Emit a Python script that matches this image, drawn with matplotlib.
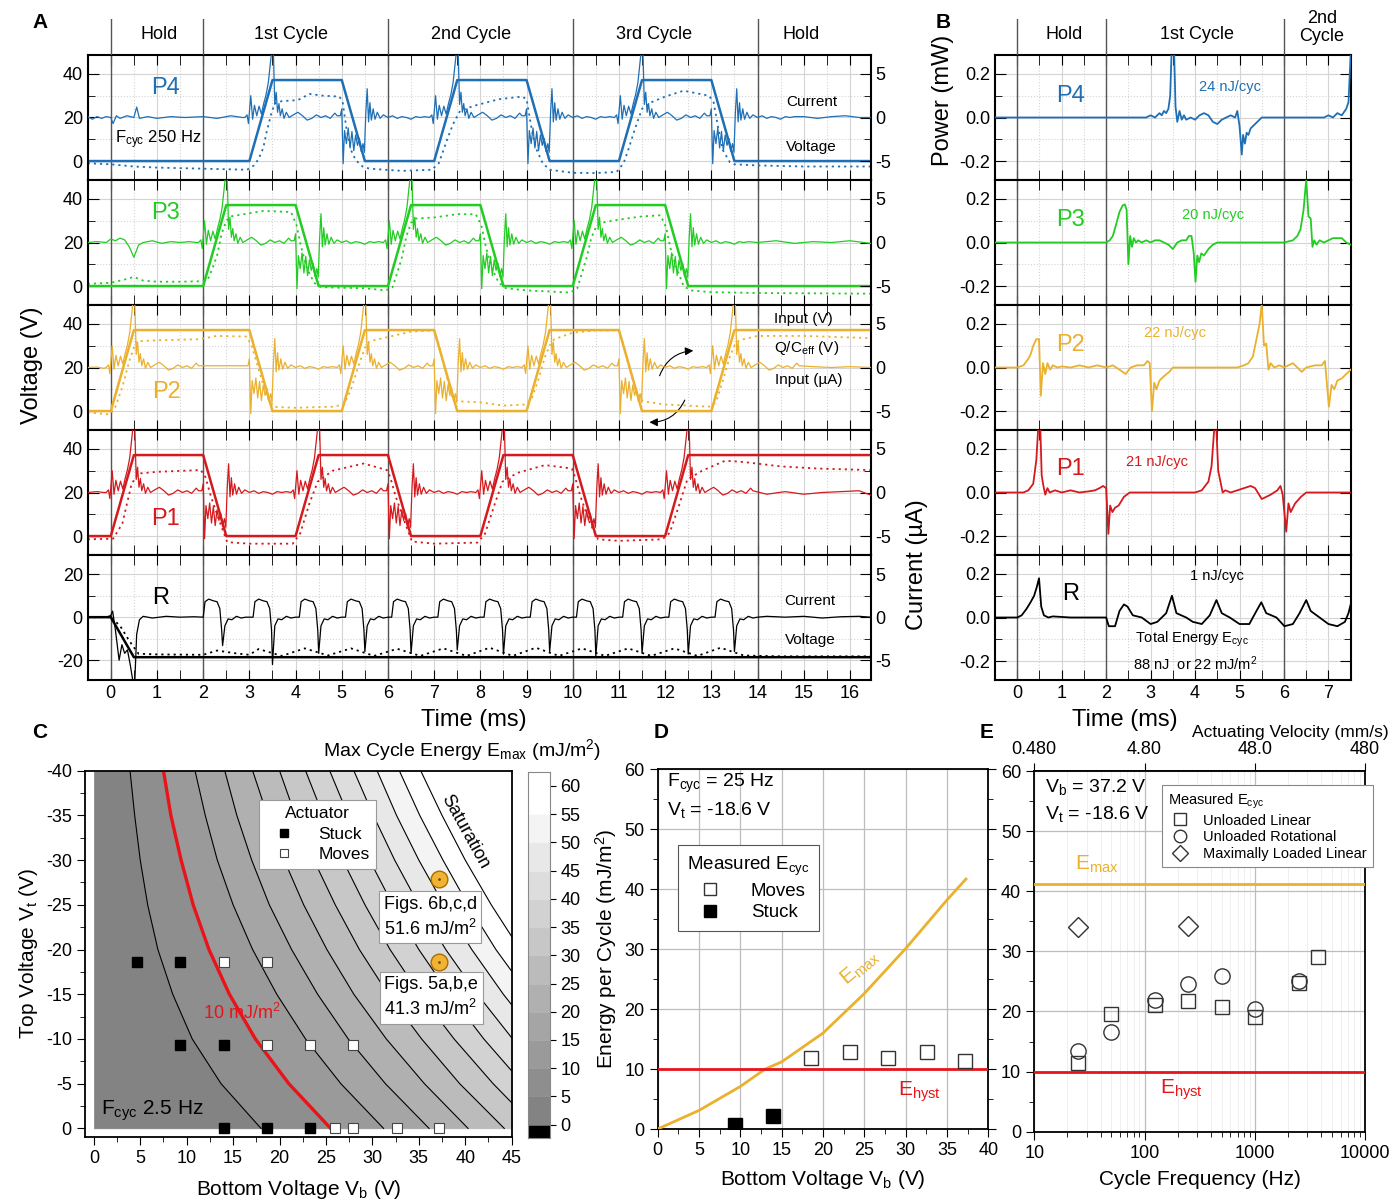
import numpy as np
import matplotlib
matplotlib.use("Agg")
import matplotlib.pyplot as plt
from matplotlib.lines import Line2D
from matplotlib.ticker import MultipleLocator, FixedLocator, NullLocator, FormatStrFormatter

plt.rcParams['font.family'] = ['Liberation Sans', 'DejaVu Sans']
plt.rcParams['mathtext.fontset'] = 'custom'
plt.rcParams['mathtext.rm'] = 'Liberation Sans'
plt.rcParams['mathtext.it'] = 'Liberation Sans:italic'
plt.rcParams['mathtext.bf'] = 'Liberation Sans:bold'
plt.rcParams['axes.unicode_minus'] = False
plt.rcParams['axes.linewidth'] = 1.3
plt.rcParams['xtick.labelsize'] = 13
plt.rcParams['ytick.labelsize'] = 13

BLUE = '#1f6fb5'
GREEN = '#22cc22'
GOLD = '#ebb02e'
RED = '#d41a1e'
HYST = '#e8141a'
SEP = '#555555'

# ---------------- panel A data (time in ms) ----------------
V_HIGH = 37.2
P4_VIN = [(-0.5, 0), (3, 0), (3.5, V_HIGH), (5, V_HIGH), (5.5, 0), (7, 0), (7.5, V_HIGH), (9, V_HIGH),
          (9.5, 0), (11, 0), (11.5, V_HIGH), (13, V_HIGH), (13.5, 0), (16.45, 0)]
P3_VIN = [(-0.5, 0), (2, 0), (2.5, V_HIGH), (4, V_HIGH), (4.5, 0), (6, 0), (6.5, V_HIGH), (8, V_HIGH),
          (8.5, 0), (10, 0), (10.5, V_HIGH), (12, V_HIGH), (12.5, 0), (16.45, 0)]
P2_VIN = [(-0.5, 0), (0, 0), (0.5, V_HIGH), (3, V_HIGH), (3.5, 0), (5, 0), (5.5, V_HIGH), (7, V_HIGH),
          (7.5, 0), (9, 0), (9.5, V_HIGH), (11, V_HIGH), (11.5, 0), (13, 0), (13.5, V_HIGH), (16.45, V_HIGH)]
P1_VIN = [(-0.5, 0), (0, 0), (0.5, V_HIGH), (2, V_HIGH), (2.5, 0), (4, 0), (4.5, V_HIGH), (6, V_HIGH),
          (6.5, 0), (8, 0), (8.5, V_HIGH), (10, V_HIGH), (10.5, 0), (12, 0), (12.5, V_HIGH), (16.45, V_HIGH)]
R_VIN = [(-0.5, 0), (0, 0), (0.5, -18.6), (16.45, -18.6)]

# Q/Ceff (dotted), volts
P4_Q = [(-0.5, -1), (0.0, -1.5), (0.5, -2.5), (1.0, -3), (2.0, -3.5), (2.95, -4), (3.1, -2), (3.2, 1), (3.3, 6),
        (3.37, 13), (3.47, 21.5), (3.55, 26.5), (3.7, 27.5), (4.05, 28), (4.3, 30.8), (4.6, 30), (4.95, 29.6),
        (5.02, 27), (5.1, 15), (5.2, 5), (5.3, 0.5), (5.45, -2.5), (5.6, -3.5), (6.3, -4.5), (6.95, -4),
        (7.1, -1), (7.2, 4.9), (7.3, 11), (7.41, 17), (7.56, 23), (7.85, 25.3), (8.4, 28.4), (8.9, 29.6),
        (9.0, 28.5), (9.1, 16), (9.2, 6), (9.35, -1), (9.5, -4), (10.0, -5.4), (10.5, -5.5), (10.95, -5),
        (11.1, -1), (11.2, 5), (11.35, 15), (11.5, 24), (11.7, 27), (12.0, 29.6), (12.4, 32.3), (12.95, 30),
        (13.05, 27), (13.15, 15), (13.25, 5), (13.4, -0.5), (13.5, -1.5), (14.0, -2), (15.0, -2.5), (16.45, -2.5)]
P3_Q = [(-0.5, 1), (0.0, 1.5), (0.3, 3), (0.5, 4.2), (0.7, 2.5), (1.0, 2), (1.5, 2), (1.95, 2.2), (2.1, 3),
        (2.2, 8), (2.3, 14), (2.4, 24), (2.5, 30), (2.6, 32), (3.3, 34.5), (3.9, 34), (4.02, 28), (4.12, 18),
        (4.25, 8), (4.4, 1.5), (4.55, -0.5), (5.0, -0.8), (5.5, -1), (5.95, -2), (6.1, -0.5), (6.2, 6),
        (6.3, 13), (6.4, 23), (6.5, 29), (6.6, 31), (7.0, 31.5), (7.5, 33), (7.9, 33), (8.02, 28), (8.12, 18),
        (8.25, 8), (8.4, 1.5), (8.55, -1), (9.0, -2), (9.5, -2.5), (9.95, -3), (10.1, -1), (10.2, 6),
        (10.3, 13), (10.4, 22), (10.5, 27), (10.6, 29), (11.0, 30.5), (11.5, 32), (11.9, 32.5), (12.02, 27),
        (12.12, 17), (12.25, 8), (12.4, 0), (12.55, -2), (13.0, -2.8), (14.0, -3.2), (16.45, -3.5)]
P2_Q = [(-0.5, -0.5), (-0.1, -1.5), (0.0, -1.2), (0.1, 2), (0.25, 11), (0.4, 23), (0.5, 29), (0.56, 32),
        (1.0, 32.5), (1.93, 33), (2.29, 34.5), (2.94, 34.2), (3.05, 30), (3.16, 22), (3.38, 6.5), (3.52, 1.9),
        (4.0, 1.5), (4.8, 2), (5.05, 3), (5.2, 10), (5.35, 20), (5.5, 29), (5.6, 32), (6.0, 34), (6.5, 36.5),
        (7.0, 37), (7.08, 32), (7.2, 22), (7.38, 7), (7.52, 4.5), (8.0, 4), (8.5, 2.5), (8.95, 3), (9.1, 5),
        (9.25, 14), (9.4, 25), (9.5, 30), (9.6, 33), (10.0, 36), (10.5, 37), (11.0, 37), (11.08, 32),
        (11.2, 22), (11.38, 8), (11.52, 4.5), (12.0, 3), (12.95, 2), (13.1, 4), (13.25, 14), (13.4, 25),
        (13.5, 30), (13.6, 32.5), (14.0, 34.5), (15.0, 34.5), (16.45, 33.5)]
P1_Q = [(-0.5, -1.5), (0.05, -1.2), (0.25, 5.7), (0.45, 24), (0.6, 28.7), (1.0, 29.5), (1.95, 30.3),
        (2.05, 27), (2.17, 18), (2.37, 5.8), (2.52, -2.8), (3.0, -3.5), (3.94, -3.5), (4.1, 1.2), (4.3, 15),
        (4.48, 25), (4.8, 30), (5.47, 33.3), (5.98, 30.3), (6.05, 27), (6.17, 18), (6.37, 6), (6.52, -2.5),
        (7.0, -3.5), (7.94, -3.0), (8.1, 1), (8.3, 14), (8.48, 25), (8.8, 29), (9.4, 32.6), (9.98, 31),
        (10.05, 27), (10.17, 18), (10.37, 6), (10.55, -1.5), (11.0, -2.2), (11.94, -1.5), (12.1, 1.5),
        (12.3, 14), (12.48, 26), (12.8, 30), (13.3, 34.6), (13.7, 34), (14.5, 32), (15.3, 31), (16.45, 30.3)]
R_Q = [(-0.5, 0), (0.0, 0), (0.2, -4), (0.4, -11), (0.6, -17), (1.0, -17.3), (2.0, -17.5), (2.3, -15.5),
       (2.7, -16.8), (3.0, -17.5), (3.2, -14.8), (3.7, -18), (4.2, -14.5), (4.7, -17.8), (5.2, -14.5),
       (5.7, -18), (6.2, -14.7), (6.7, -18), (7.2, -14.5), (7.7, -18), (8.2, -14.2), (8.7, -18), (9.2, -14.2),
       (9.7, -18), (10.2, -14.5), (10.7, -18), (11.2, -14.5), (11.7, -18), (12.2, -14.5), (12.7, -18),
       (13.2, -14.2), (13.7, -17.8), (14.5, -18.2), (16.45, -18.2)]

# current response read around one ramp (offset from ramp start, uA)
RISE_SHAPE = [(-0.10, 0.0), (-0.05, 0.3), (-0.02, -0.7), (0.03, 2.5), (0.07, -0.2), (0.11, 1.4), (0.16, 0.2),
              (0.21, 1.3), (0.26, 0.4), (0.31, 1.6), (0.36, 2.6), (0.41, 4.0), (0.45, 6.0), (0.48, 7.5),
              (0.52, 7.5), (0.55, 1.5), (0.58, 2.9), (0.61, 0.6), (0.64, 1.6), (0.67, 0.2), (0.71, 1.0),
              (0.75, -0.1), (0.80, 0.6), (0.86, 0.0), (0.95, 0.3), (1.05, 0.6), (1.15, 0.2), (1.25, -0.3),
              (1.35, -0.1), (1.45, 0.3), (1.55, 0.0), (1.65, 0.2), (1.75, -0.1), (1.85, 0.5), (1.9, 0.2)]
FALL_SHAPE = [(-0.03, 0.2), (0.0, 1.0), (0.03, -5.3), (0.06, -1.5), (0.10, -3.0), (0.14, -1.2), (0.18, -3.5),
              (0.22, -1.6), (0.26, -3.8), (0.30, -2.0), (0.34, -3.2), (0.38, -2.4), (0.42, -3.9), (0.46, -3.0),
              (0.49, -4.0), (0.52, 0.5), (0.55, 3.3), (0.58, -0.5), (0.61, 1.7), (0.64, -0.3), (0.68, 1.0),
              (0.72, -0.2), (0.77, 0.6), (0.83, -0.1), (0.9, 0.3), (1.0, 0.0), (1.1, 0.2), (1.2, -0.1),
              (1.3, 0.1), (1.4, 0.0), (1.5, -0.2), (1.6, 0.1), (1.7, 0.0), (1.8, 0.1)]

P4_RISES, P4_FALLS = [3, 7, 11], [5, 9, 13]
P3_RISES, P3_FALLS = [2, 6, 10], [4, 8, 12]
P2_RISES, P2_FALLS = [0, 5, 9, 13], [3, 7, 11]
P1_RISES, P1_FALLS = [0, 4, 8, 12], [2, 6, 10]

P4_I_HEAD = [(-0.5, 0.1), (-0.4, -0.2), (-0.3, 0.1), (-0.2, -0.1), (-0.1, 0.1), (0.0, 0.0), (0.05, -0.7),
             (0.12, 0.2), (0.2, -0.1), (0.35, 0.2), (0.5, 0.0), (0.56, 1.2), (0.62, -0.1), (0.8, 0.1),
             (1.0, -0.1), (1.3, 0.1), (1.6, 0.0), (2.0, 0.1), (2.3, -0.1), (2.6, 0.2), (2.85, 0.0)]
P4_I_TAIL = [(15.0, 0.1), (15.3, -0.1), (15.6, 0.1), (15.9, 0.2), (16.2, 0.0), (16.45, 0.0)]
P3_I_HEAD = [(-0.5, 0.0), (-0.3, 0.1), (-0.1, 0.0), (0.0, 0.4), (0.1, 0.2), (0.2, 0.5), (0.3, 0.3),
             (0.4, -0.5), (0.5, -1.7), (0.6, -0.3), (0.7, 0.0), (0.9, 0.2), (1.1, -0.1), (1.3, 0.1),
             (1.5, 0.0), (1.7, 0.1), (1.85, 0.0)]
P3_I_TAIL = [(14.0, 0.0), (14.4, 0.2), (14.8, -0.1), (15.2, 0.1), (15.6, 0.0), (16.0, 0.2), (16.45, -0.1)]
P2_I_HEAD = [(-0.5, 0.0), (-0.3, 0.05), (-0.15, -0.1)]
P2_I_TAIL = [(15.2, 0.1), (15.6, 0.0), (16.0, 0.1), (16.45, 0.0)]
P1_I_HEAD = [(-0.5, 0.0), (-0.3, 0.1), (-0.15, 0.0)]
P1_I_TAIL = [(14.2, -0.2), (14.6, 0.1), (15.0, -0.2), (15.4, 0.0), (15.8, 0.1), (16.2, 0.2), (16.45, -0.3)]

R_I_HEAD = [(-0.5, 0), (-0.3, 0.05), (-0.1, 0), (0.0, 0.2), (0.04, 0.7), (0.1, -1.5), (0.18, -5.0),
            (0.24, -3.2), (0.3, -4.2), (0.36, -3.8), (0.42, -5.5), (0.48, -7.5), (0.52, -7.5), (0.56, -2.0),
            (0.62, -0.3), (0.7, 0.1), (0.9, -0.1), (1.2, 0.1), (1.5, 0.0), (1.8, 0.05)]
R_SHAPE = [(-0.42, 0.0), (-0.38, 1.8), (-0.3, 2.1), (-0.2, 1.9), (-0.12, 1.8), (-0.06, 1.0), (-0.02, -1.5),
           (0.0, None), (0.05, -1.0), (0.12, -0.2), (0.2, -0.3), (0.3, 0.1), (0.4, -0.1), (0.5, 0.0)]
R_DROPS = [2.42, 3.5, 4.5, 5.5, 6.5, 7.5, 8.5, 9.5, 10.5, 11.5, 12.5, 13.5]
R_DEPTHS = [-3.3, -5.5, -4.2, -4.0, -4.2, -3.8, -4.3, -4.0, -4.5, -4.2, -4.3, -4.0]
R_I_TAIL = [(14.2, 0.1), (14.6, 0.0), (15.0, 0.1), (15.4, -0.1), (15.8, 0.05), (16.2, 0.1), (16.45, 0.0)]

# ---------------- panel B data (power, mW) ----------------
P4_POW = [(-0.5, 0), (2.9, 0), (3.0, 0.01), (3.1, 0.0), (3.2, 0.02), (3.25, 0.01), (3.3, 0.03), (3.35, 0.02),
          (3.4, 0.04), (3.44, 0.1), (3.47, 0.29), (3.53, 0.29), (3.56, 0.05), (3.6, -0.02), (3.65, 0.03),
          (3.7, -0.01), (3.75, 0.01), (3.8, -0.01), (3.9, 0.0), (4.0, -0.01), (4.1, 0.01), (4.2, 0.02),
          (4.3, 0.01), (4.4, -0.02), (4.5, -0.03), (4.6, -0.01), (4.7, 0.0), (4.8, 0.01), (4.9, 0.0),
          (4.95, 0.03), (5.0, -0.04), (5.05, -0.17), (5.08, -0.08), (5.12, -0.12), (5.16, -0.07), (5.2, -0.08),
          (5.25, -0.05), (5.3, -0.04), (5.4, -0.02), (5.5, 0.0), (5.6, 0.0), (6.9, 0.0), (7.0, 0.01),
          (7.1, 0.0), (7.2, 0.02), (7.3, 0.01), (7.4, 0.04), (7.45, 0.07), (7.5, 0.29)]
P3_POW = [(-0.5, 0), (2.0, 0), (2.08, 0.01), (2.15, 0.03), (2.22, 0.08), (2.3, 0.14), (2.37, 0.17),
          (2.42, 0.175), (2.46, 0.15), (2.5, -0.1), (2.54, 0.03), (2.58, -0.02), (2.62, 0.02), (2.67, 0.0),
          (2.72, 0.01), (2.8, 0.0), (2.9, 0.01), (3.0, 0.0), (3.1, 0.01), (3.2, 0.01), (3.3, 0.0), (3.4, -0.01),
          (3.5, -0.03), (3.6, 0.0), (3.7, 0.01), (3.8, 0.01), (3.86, 0.03), (3.92, 0.03), (3.97, -0.05),
          (4.01, -0.18), (4.05, -0.06), (4.09, -0.09), (4.14, -0.05), (4.2, -0.06), (4.3, -0.03), (4.4, -0.01),
          (4.5, 0.0), (6.0, 0.0), (6.1, 0.005), (6.2, 0.01), (6.3, 0.03), (6.37, 0.06), (6.44, 0.15),
          (6.5, 0.29), (6.55, 0.12), (6.6, 0.11), (6.64, -0.02), (6.68, 0.01), (6.73, -0.01), (6.8, 0.01),
          (6.9, 0.0), (7.0, 0.01), (7.1, 0.02), (7.2, 0.02), (7.3, 0.02), (7.4, 0.0), (7.5, -0.01)]
P2_POW = [(-0.5, 0), (0.0, 0), (0.14, 0.01), (0.25, 0.04), (0.3, 0.06), (0.36, 0.1), (0.43, 0.13),
          (0.49, 0.13), (0.53, -0.13), (0.58, 0.02), (0.63, -0.03), (0.68, 0.02), (0.74, -0.01), (0.8, 0.01),
          (0.9, 0.0), (1.0, 0.005), (1.2, 0.0), (1.4, 0.01), (1.6, 0.0), (1.8, 0.01), (2.0, 0.0), (2.15, 0.01),
          (2.3, -0.01), (2.44, -0.03), (2.55, 0.0), (2.7, 0.01), (2.85, 0.01), (2.93, 0.03), (2.98, 0.02),
          (3.03, -0.2), (3.08, -0.07), (3.13, -0.1), (3.2, -0.06), (3.3, -0.04), (3.42, -0.02), (3.5, 0.0),
          (4.95, 0.0), (5.1, 0.01), (5.2, 0.02), (5.3, 0.05), (5.37, 0.12), (5.45, 0.2), (5.5, 0.29),
          (5.55, 0.1), (5.6, 0.11), (5.65, -0.01), (5.7, 0.02), (5.78, 0.0), (5.9, 0.01), (6.0, 0.0),
          (6.2, 0.02), (6.4, -0.02), (6.5, 0.0), (6.7, 0.01), (6.85, 0.01), (6.92, 0.03), (7.01, -0.18),
          (7.07, -0.08), (7.13, -0.1), (7.2, -0.06), (7.3, -0.05), (7.4, -0.03), (7.5, -0.01)]
P1_POW = [(-0.5, 0), (0.0, 0), (0.14, 0.0), (0.25, 0.01), (0.36, 0.04), (0.43, 0.15), (0.47, 0.29),
          (0.52, 0.29), (0.55, 0.08), (0.58, 0.04), (0.63, -0.01), (0.68, 0.02), (0.73, 0.0), (0.85, 0.01),
          (1.0, 0.0), (1.2, 0.01), (1.4, 0.0), (1.6, 0.005), (1.75, 0.01), (1.85, 0.02), (1.93, 0.03),
          (2.0, 0.02), (2.05, -0.19), (2.09, -0.06), (2.14, -0.09), (2.2, -0.07), (2.28, -0.06), (2.4, -0.02),
          (2.53, 0.0), (4.0, 0.0), (4.15, 0.01), (4.3, 0.05), (4.37, 0.12), (4.43, 0.29), (4.48, 0.29),
          (4.52, 0.1), (4.56, 0.06), (4.62, 0.0), (4.68, 0.01), (4.8, 0.0), (4.95, 0.01), (5.1, 0.02),
          (5.25, 0.03), (5.35, 0.02), (5.5, -0.03), (5.7, -0.01), (5.85, 0.01), (5.92, 0.03), (5.97, -0.01),
          (6.05, -0.18), (6.1, -0.05), (6.15, -0.09), (6.25, -0.05), (6.38, -0.02), (6.5, 0.0), (7.5, 0.0)]
R_POW = [(-0.5, 0), (0.0, 0), (0.1, 0.01), (0.21, 0.04), (0.3, 0.07), (0.38, 0.1), (0.44, 0.14), (0.49, 0.18),
         (0.54, 0.05), (0.6, 0.01), (0.7, 0.0), (0.8, 0.005), (1.2, 0.0), (1.6, 0.0), (2.0, 0.0), (2.06, -0.04),
         (2.2, -0.04), (2.3, 0.03), (2.4, 0.06), (2.48, 0.05), (2.6, 0.01), (2.8, 0.0), (3.0, -0.03),
         (3.15, -0.02), (3.35, 0.02), (3.48, 0.1), (3.58, 0.02), (3.8, 0.0), (3.95, -0.02), (4.15, -0.03),
         (4.33, 0.01), (4.48, 0.08), (4.6, 0.02), (4.78, 0.0), (5.0, -0.03), (5.22, -0.03), (5.38, 0.03),
         (5.49, 0.07), (5.6, 0.02), (5.83, 0.0), (6.01, -0.04), (6.2, -0.03), (6.35, 0.02), (6.5, 0.08),
         (6.6, 0.03), (6.8, 0.0), (7.0, -0.03), (7.2, -0.04), (7.37, -0.02), (7.45, 0.02), (7.5, 0.06)]

# ---------------- panel C data ----------------
VT_ROWS = [0, -5, -10, -15, -20, -25, -30, -35, -40]
C_LEVELS = [5, 10, 15, 20, 25, 30, 35, 40, 45, 50, 55, 60]
C_VB = [
    [18.0, 13.7, 10.6, 8.5, 6.9, 5.8, 5.0, 4.4, 3.9],
    [25.5, 21.0, 17.4, 14.6, 12.4, 10.7, 9.4, 8.3, 7.5],
    [31.2, 26.6, 22.8, 19.7, 17.1, 15.0, 13.3, 12.0, 10.9],
    [36.1, 31.4, 27.4, 24.1, 21.3, 18.9, 17.0, 15.4, 14.1],
    [40.3, 35.6, 31.5, 28.0, 25.1, 22.6, 20.5, 18.7, 17.1],
    [44.2, 39.4, 35.3, 31.7, 28.6, 26.0, 23.7, 21.7, 20.0],
    [47.7, 43.0, 38.8, 35.1, 31.9, 29.2, 26.8, 24.7, 22.8],
    [51.0, 46.2, 42.0, 38.3, 35.0, 32.2, 29.7, 27.4, 25.4],
    [54.1, 49.3, 45.1, 41.3, 37.9, 35.0, 32.4, 30.1, 28.0],
    [57.0, 52.2, 47.9, 44.1, 40.7, 37.7, 35.0, 32.6, 30.5],
    [59.8, 55.0, 50.7, 46.8, 43.3, 40.3, 37.6, 35.1, 32.9],
    [62.5, 57.7, 53.3, 49.4, 45.9, 42.8, 40.0, 37.5, 35.2],
]
C_STUCK_VB = [4.7, 9.3, 9.3, 14.0, 14.0, 18.6, 23.3]
C_STUCK_VT = [-18.6, -18.6, -9.3, -9.3, 0, 0, 0]
C_MOVES_VB = [14.0, 18.6, 18.6, 23.3, 27.9, 26.0, 27.9, 32.6, 37.2]
C_MOVES_VT = [-18.6, -18.6, -9.3, -9.3, -9.3, 0, 0, 0, 0]
C_FIG_VB = [37.2, 37.2]
C_FIG_VT = [-27.9, -18.6]

# ---------------- panel D data ----------------
D_EMAX_VB = [0, 5, 10, 13, 15, 20, 25, 30, 35, 37.3]
D_EMAX_E = [0, 3.1, 7.1, 10.0, 11.2, 16.0, 22.6, 30.1, 38.2, 41.7]
D_MOVES_VB = [18.6, 23.3, 27.9, 32.6, 37.2]
D_MOVES_E = [11.8, 12.9, 11.8, 12.8, 11.3]
D_STUCK_VB = [9.3, 14.0]
D_STUCK_E = [0.6, 2.1]
E_HYST = 10.0

# ---------------- panel E data ----------------
E_LIN_F = [25, 50, 125, 250, 500, 1000, 2500, 3750]
E_LIN_E = [11.4, 19.5, 21.0, 21.8, 20.8, 19.1, 24.8, 29.0]
E_ROT_F = [25, 50, 125, 250, 500, 1000, 2500]
E_ROT_E = [13.5, 16.6, 21.9, 24.6, 25.9, 20.4, 25.1]
E_LOAD_F = [25, 250]
E_LOAD_E = [34.1, 34.2]
E_EMAX = 41.2
MM_S_PER_HZ = 0.048


def xy(pairs):
    a = np.array(pairs, dtype=float)
    return a[:, 0], a[:, 1]


def current_trace(head, rises, falls, tail):
    pts = list(head) + list(tail)
    for t0 in rises:
        pts += [(t0 + dt, i) for dt, i in RISE_SHAPE]
    for t0 in falls:
        pts += [(t0 + dt, i) for dt, i in FALL_SHAPE]
    pts.sort()
    return xy(pts)


def r_current():
    pts = list(R_I_HEAD) + list(R_I_TAIL)
    for t0, depth in zip(R_DROPS, R_DEPTHS):
        pts += [(t0 + dt, depth if i is None else i) for dt, i in R_SHAPE]
    pts.sort()
    return xy(pts)


W, H = 1398, 1199
fig = plt.figure(figsize=(W / 100, H / 100), dpi=100)
fig.patch.set_facecolor('white')


def add_ax(x0, x1, y0, y1):
    return fig.add_axes([x0 / W, 1 - y1 / H, (x1 - x0) / W, (y1 - y0) / H])


def ftext(x, y, s, **kw):
    fig.text(x / W, 1 - y / H, s, **kw)


def grid_light(ax):
    ax.grid(which='major', color='#d4d4d4', lw=0.8)
    ax.grid(which='minor', color='#d4d4d4', lw=0.8, ls=':')
    ax.set_axisbelow(True)


# ================= panel A =================
rowsA = [
    ('P4', BLUE, P4_VIN, P4_Q, current_trace(P4_I_HEAD, P4_RISES, P4_FALLS, P4_I_TAIL)),
    ('P3', GREEN, P3_VIN, P3_Q, current_trace(P3_I_HEAD, P3_RISES, P3_FALLS, P3_I_TAIL)),
    ('P2', GOLD, P2_VIN, P2_Q, current_trace(P2_I_HEAD, P2_RISES, P2_FALLS, P2_I_TAIL)),
    ('P1', RED, P1_VIN, P1_Q, current_trace(P1_I_HEAD, P1_RISES, P1_FALLS, P1_I_TAIL)),
    ('R', 'black', R_VIN, R_Q, r_current()),
]
A_SEPS = [0, 2, 6, 10, 14]
for k, (name, col, vin, q, cur) in enumerate(rowsA):
    y0 = 55 + 125 * k
    ax = add_ax(87.7, 870.7, y0, y0 + 125)
    ax2 = ax.twinx()
    ax.set_xlim(-0.5, 16.45)
    if name == 'R':
        ax.set_ylim(-29.2, 28.9)
        ax.yaxis.set_major_locator(FixedLocator([-20, 0, 20]))
        ax2.set_ylim(-7.3, 7.225)
    else:
        ax.set_ylim(-8.7, 48.7)
        ax.yaxis.set_major_locator(FixedLocator([0, 20, 40]))
        ax2.set_ylim(-7.175, 7.175)
    ax.yaxis.set_minor_locator(MultipleLocator(10))
    ax2.yaxis.set_major_locator(FixedLocator([-5, 0, 5]))
    ax2.yaxis.set_minor_locator(MultipleLocator(2.5))
    ax.xaxis.set_major_locator(MultipleLocator(1))
    ax.xaxis.set_minor_locator(MultipleLocator(0.5))
    grid_light(ax)
    ax.tick_params(which='both', direction='in', top=True, right=False)
    ax.tick_params(axis='x', which='both', length=7)
    ax.tick_params(axis='y', which='major', length=8)
    ax.tick_params(axis='y', which='minor', length=5)
    ax2.tick_params(which='major', direction='in', length=8)
    ax2.tick_params(which='minor', direction='in', length=5)
    if k < 4:
        ax.tick_params(axis='x', labelbottom=False)
    for b in A_SEPS:
        ax.axvline(b, color=SEP, lw=1.0, zorder=1.5)
    t, v = xy(q)
    ax.plot(t, v, color=col, lw=1.3, ls=(0, (1.2, 2.2)), zorder=3)
    t, v = xy(vin)
    ax.plot(t, v, color=col, lw=1.8, zorder=4)
    ax2.plot(cur[0], cur[1], color=col, lw=0.9, zorder=3)
    for sp in ax.spines.values():
        sp.set_linewidth(1.5)

    if name == 'P4':
        ax.text(1.18, 33.4, 'P4', color=col, fontsize=17, ha='center', va='center')
        ax.text(0.09, 9.7, 'F$_{\\mathrm{cyc}}$ 250 Hz', fontsize=12, ha='left', va='center')
        ax.text(15.17, 27.3, 'Current', fontsize=11, ha='center', va='center')
        ax.text(15.17, 6.6, 'Voltage', fontsize=11, ha='center', va='center')
    elif name == 'P3':
        ax.text(1.18, 33.5, 'P3', color=col, fontsize=17, ha='center', va='center')
    elif name == 'P2':
        ax.text(1.21, 8.8, 'P2', color=col, fontsize=17, ha='center', va='center')
        ax.text(15.0, 42.3, 'Input (V)', fontsize=11, ha='center', va='center')
        ax.text(15.06, 28.9, 'Q/C$_{\\mathrm{eff}}$ (V)', fontsize=11, ha='center', va='center')
        ax.text(15.1, 14.2, 'Input (\u00b5A)', fontsize=11, ha='center', va='center')
        ax.annotate('', xy=(12.67, 27.8), xytext=(11.86, 15),
                    arrowprops=dict(arrowstyle='-|>', color='black', lw=0.8, mutation_scale=12,
                                    connectionstyle='arc3,rad=-0.35'))
        ax.annotate('', xy=(11.6, -5.1), xytext=(12.45, 6.2),
                    arrowprops=dict(arrowstyle='-|>', color='black', lw=0.8, mutation_scale=12,
                                    connectionstyle='arc3,rad=-0.35'))
    elif name == 'P1':
        ax.text(1.18, 8.0, 'P1', color=col, fontsize=17, ha='center', va='center')
    else:
        ax.text(1.07, 9.0, 'R', color=col, fontsize=17, ha='center', va='center')
        ax.text(15.14, 7.4, 'Current', fontsize=11, ha='center', va='center')
        ax.text(15.14, -10.6, 'Voltage', fontsize=11, ha='center', va='center')

hA = add_ax(87.7, 870.7, 19, 55)
hA.set_xlim(-0.5, 16.45)
hA.set_ylim(0, 1)
hA.axis('off')
for b in A_SEPS:
    hA.axvline(b, color=SEP, lw=1.0)
for x, s in [(1.05, 'Hold'), (3.9, '1st Cycle'), (7.8, '2nd Cycle'), (11.75, '3rd Cycle'), (14.95, 'Hold')]:
    hA.text(x, 0.58, s, ha='center', va='center', fontsize=13)

# ================= panel B =================
rowsB = [
    ('P4', BLUE, P4_POW, 0.1, '24 nJ/cyc', (4.79, 0.138)),
    ('P3', GREEN, P3_POW, 0.104, '20 nJ/cyc', (4.4, 0.127)),
    ('P2', GOLD, P2_POW, 0.104, '22 nJ/cyc', (3.55, 0.158)),
    ('P1', RED, P1_POW, 0.11, '21 nJ/cyc', (3.14, 0.14)),
    ('R', 'black', R_POW, 0.107, '1 nJ/cyc', (4.49, 0.19)),
]
B_SEPS = [0, 2, 6]
for k, (name, col, pw, ny, etxt, epos) in enumerate(rowsB):
    y0 = 55 + 125 * k
    ax = add_ax(995, 1350.7, y0, y0 + 125)
    ax.set_xlim(-0.5, 7.5)
    ax.set_ylim(-0.287, 0.287)
    ax.yaxis.set_major_locator(FixedLocator([-0.2, 0.0, 0.2]))
    ax.yaxis.set_major_formatter(FormatStrFormatter('%.1f'))
    ax.yaxis.set_minor_locator(MultipleLocator(0.1))
    ax.xaxis.set_major_locator(MultipleLocator(1))
    ax.xaxis.set_minor_locator(MultipleLocator(0.5))
    grid_light(ax)
    ax.tick_params(which='both', direction='in', top=True, right=True)
    ax.tick_params(axis='x', which='both', length=7)
    ax.tick_params(axis='y', which='major', length=8)
    ax.tick_params(axis='y', which='minor', length=5)
    if k < 4:
        ax.tick_params(axis='x', labelbottom=False)
    for b in B_SEPS:
        ax.axvline(b, color=SEP, lw=1.0, zorder=1.5)
    t, p = xy(pw)
    ax.plot(t, p, color=col, lw=1.3, zorder=3)
    for sp in ax.spines.values():
        sp.set_linewidth(1.5)
    ax.text(1.19, ny, name, color=col, fontsize=17, ha='center', va='center')
    ax.text(epos[0], epos[1], etxt, color=col, fontsize=10.5, ha='center', va='center')
    if name == 'R':
        ax.text(3.92, -0.1, 'Total Energy E$_{\\mathrm{cyc}}$', fontsize=10.5, ha='center', va='center')
        ax.text(4.0, -0.21, '88 nJ  or 22 mJ/m$^2$', fontsize=10.5, ha='center', va='center')

hB = add_ax(995, 1350.7, 19, 55)
hB.set_xlim(-0.5, 7.5)
hB.set_ylim(0, 1)
hB.axis('off')
for b in B_SEPS:
    hB.axvline(b, color=SEP, lw=1.0)
hB.text(1.05, 0.58, 'Hold', ha='center', va='center', fontsize=13)
hB.text(4.04, 0.58, '1st Cycle', ha='center', va='center', fontsize=13)
hB.text(6.85, 0.76, '2nd\nCycle', ha='center', va='center', fontsize=13, linespacing=1.05)

ftext(32, 365, 'Voltage (V)', rotation=90, ha='center', va='center', fontsize=17)
ftext(917, 565, 'Current (\u00b5A)', rotation=90, ha='center', va='center', fontsize=17)
ftext(943, 100, 'Power (mW)', rotation=90, ha='center', va='center', fontsize=17)
ftext(474, 720, 'Time (ms)', ha='center', va='center', fontsize=17)
ftext(1125, 720, 'Time (ms)', ha='center', va='center', fontsize=17)
for x, y, s in [(40, 23, 'A'), (943, 23, 'B'), (40, 732, 'C'), (661, 732, 'D'), (987, 732, 'E')]:
    ftext(x, y, s, ha='center', va='center', fontsize=15, fontweight='bold')


# ================= panel C =================
def band_gray(upper):
    g = min(1.0, 0.47 + 0.53 * upper / 60.0)
    return (g, g, g)


axC = add_ax(85, 511.7, 770.7, 1136.7)
axC.set_xlim(-0.95, 45)
axC.set_ylim(0.93, -40)
prev = [0.0] * len(VT_ROWS)
for lev, vb in zip(C_LEVELS, C_VB):
    axC.fill_betweenx(VT_ROWS, prev, vb, facecolor=band_gray(lev), edgecolor=band_gray(lev), lw=0.4, zorder=0)
    prev = vb
for lev, vb in zip(C_LEVELS, C_VB):
    if lev == 10:
        axC.plot(vb, VT_ROWS, color=HYST, lw=2.4, zorder=2)
    else:
        axC.plot(vb, VT_ROWS, color='black', lw=0.8, zorder=1)
axC.plot(C_STUCK_VB, C_STUCK_VT, ls='none', marker='s', ms=6.5, mfc='black', mec='black', zorder=4)
axC.plot(C_MOVES_VB, C_MOVES_VT, ls='none', marker='s', ms=6.5, mfc='white', mec='#444444', mew=0.8, zorder=4)
axC.plot(C_FIG_VB, C_FIG_VT, ls='none', marker='o', ms=12, mfc='#f2b233', mec='#a86e00', mew=1, zorder=4)
axC.plot(C_FIG_VB, C_FIG_VT, ls='none', marker='.', ms=2, color='#7a5000', zorder=5)
axC.xaxis.set_major_locator(MultipleLocator(5))
axC.xaxis.set_minor_locator(MultipleLocator(2.5))
axC.yaxis.set_major_locator(FixedLocator([0, -5, -10, -15, -20, -25, -30, -35, -40]))
axC.yaxis.set_minor_locator(MultipleLocator(2.5))
axC.tick_params(which='both', direction='out')
axC.tick_params(which='major', length=6)
axC.tick_params(which='minor', length=3.5)
axC.set_xlabel('Bottom Voltage V$_\\mathrm{b}$ (V)', fontsize=15, labelpad=8)
axC.set_ylabel('Top Voltage V$_\\mathrm{t}$ (V)', fontsize=15, labelpad=4)
axC.text(15.9, -12.9, '10 mJ/m$^2$', color=HYST, fontsize=13, ha='center', va='center', zorder=6)
axC.text(0.8, -2.0, 'F$_{\\mathrm{cyc}}$ 2.5 Hz', fontsize=15, ha='left', va='center', zorder=6)
axC.text(40.0, -33.2, 'Saturation', fontsize=13, rotation=-61, ha='center', va='center', zorder=6)
box = dict(boxstyle='square,pad=0.25', fc='white', ec='#999999', lw=0.8)
axC.text(31.2, -23.6, 'Figs. 6b,c,d\n51.6 mJ/m$^2$', fontsize=13, ha='left', va='center', bbox=box,
         zorder=6, linespacing=1.35)
axC.text(31.3, -14.6, 'Figs. 5a,b,e\n41.3 mJ/m$^2$', fontsize=13, ha='left', va='center', bbox=box,
         zorder=6, linespacing=1.35)
hC = [Line2D([], [], ls='none', marker='s', ms=6, mfc='black', mec='black', label='Stuck'),
      Line2D([], [], ls='none', marker='s', ms=6, mfc='white', mec='#444444', mew=0.8, label='Moves')]
legC = axC.legend(handles=hC, title='Actuator', loc='upper left', bbox_to_anchor=(0.388, 0.945),
                  fontsize=12.5, title_fontsize=12.5, fancybox=False, framealpha=1, edgecolor='#999999',
                  handletextpad=1.0, labelspacing=0.3, borderpad=0.4)
legC.get_frame().set_linewidth(0.8)
legC.set_zorder(7)

axCb = add_ax(528, 550, 771.7, 1138)
axCb.set_xlim(0, 1)
axCb.set_ylim(-2.35, 62.5)
axCb.axhspan(-2.35, 0, color='black', lw=0)
lo = 0
for lev in C_LEVELS:
    axCb.axhspan(lo, lev, facecolor=band_gray(lev), edgecolor=band_gray(lev), lw=0.4)
    lo = lev
axCb.set_xticks([])
axCb.yaxis.tick_right()
axCb.yaxis.set_major_locator(MultipleLocator(5))
axCb.set_ylim(-2.35, 62.5)
axCb.tick_params(axis='y', direction='out', length=4)
for sp in axCb.spines.values():
    sp.set_linewidth(0.8)
    sp.set_color('#888888')
ftext(462, 750, 'Max Cycle Energy E$_{\\mathrm{max}}$ (mJ/m$^2$)', ha='center', va='center', fontsize=14)

# ================= panel D =================
axD = add_ax(657.7, 988.3, 769.3, 1129)
axD.set_xlim(0, 40)
axD.set_ylim(0, 60)
axD.xaxis.set_major_locator(MultipleLocator(5))
axD.xaxis.set_minor_locator(MultipleLocator(2.5))
axD.yaxis.set_major_locator(MultipleLocator(10))
axD.yaxis.set_minor_locator(MultipleLocator(5))
axD.grid(which='major', color='#bdbdbd', lw=0.9)
axD.set_axisbelow(True)
axD.tick_params(which='both', direction='out', right=True, top=False)
axD.tick_params(which='major', length=6)
axD.tick_params(which='minor', length=3.5)
axD.plot(D_EMAX_VB, D_EMAX_E, color=GOLD, lw=2.0, zorder=3)
axD.axhline(E_HYST, color=HYST, lw=2.0, zorder=3)
axD.plot(D_MOVES_VB, D_MOVES_E, ls='none', marker='s', ms=10, mfc='white', mec='#333333', mew=1, zorder=4)
axD.plot(D_STUCK_VB, D_STUCK_E, ls='none', marker='s', ms=10, mfc='black', mec='black', zorder=4)
axD.set_xlabel('Bottom Voltage V$_\\mathrm{b}$ (V)', fontsize=15, labelpad=6)
axD.set_ylabel('Energy per Cycle (mJ/m$^2$)', fontsize=15, labelpad=4)
axD.text(0.027, 0.962, 'F$_{\\mathrm{cyc}}$ = 25 Hz', transform=axD.transAxes, fontsize=14, ha='left', va='center')
axD.text(0.027, 0.887, 'V$_\\mathrm{t}$ = -18.6 V', transform=axD.transAxes, fontsize=14, ha='left', va='center')
axD.text(24.5, 26.8, 'E$_{\\mathrm{max}}$', color=GOLD, fontsize=15, rotation=40, ha='center', va='center')
axD.text(31.7, 6.2, 'E$_{\\mathrm{hyst}}$', color=HYST, fontsize=15, ha='center', va='center')
hD = [Line2D([], [], ls='none', marker='s', ms=9, mfc='white', mec='#333333', mew=1, label='Moves'),
      Line2D([], [], ls='none', marker='s', ms=9, mfc='black', mec='black', label='Stuck')]
legD = axD.legend(handles=hD, title='Measured E$_{\\mathrm{cyc}}$', loc='upper left', bbox_to_anchor=(0.032, 0.815),
                  fontsize=13.5, title_fontsize=13.5, fancybox=False, framealpha=1, edgecolor='#555555',
                  handletextpad=1.2, labelspacing=0.25, borderpad=0.5)
legD.get_frame().set_linewidth(0.8)

# ================= panel E =================
axE = add_ax(1034.3, 1365, 771, 1131.7)
axE.set_xscale('log')
axE.set_xlim(10, 10000)
axE.set_ylim(0, 60)
axE.yaxis.set_major_locator(MultipleLocator(10))
axE.yaxis.set_minor_locator(MultipleLocator(5))
axE.grid(which='major', color='#bdbdbd', lw=0.9)
axE.grid(which='minor', axis='x', color='#ececec', lw=0.6)
axE.set_axisbelow(True)
axE.tick_params(which='both', direction='out', right=False, top=False)
axE.tick_params(which='major', length=6)
axE.tick_params(which='minor', length=3.5)
axE.set_xticks([10, 100, 1000, 10000])
axE.set_xticklabels(['10', '100', '1000', '10000'])
axE.axhline(E_EMAX, color=GOLD, lw=2.0, zorder=3)
axE.axhline(E_HYST, color=HYST, lw=2.0, zorder=3)
axE.plot(E_LIN_F, E_LIN_E, ls='none', marker='s', ms=10, mfc='none', mec='#333333', mew=1, zorder=4)
axE.plot(E_ROT_F, E_ROT_E, ls='none', marker='o', ms=11, mfc='none', mec='#333333', mew=1, zorder=4)
axE.plot(E_LOAD_F, E_LOAD_E, ls='none', marker='D', ms=10, mfc='none', mec='#333333', mew=1, zorder=4)
axE.set_xlabel('Cycle Frequency (Hz)', fontsize=15, labelpad=6)
axE.text(0.032, 0.956, 'V$_\\mathrm{b}$ = 37.2 V', transform=axE.transAxes, fontsize=14, ha='left', va='center')
axE.text(0.032, 0.881, 'V$_\\mathrm{t}$ = -18.6 V', transform=axE.transAxes, fontsize=14, ha='left', va='center')
axE.text(36.8, 44.4, 'E$_{\\mathrm{max}}$', color=GOLD, fontsize=15, ha='center', va='center')
axE.text(217, 6.9, 'E$_{\\mathrm{hyst}}$', color=HYST, fontsize=15, ha='center', va='center')
hE = [Line2D([], [], ls='none', marker='s', ms=8, mfc='none', mec='#333333', mew=1, label='Unloaded Linear'),
      Line2D([], [], ls='none', marker='o', ms=9, mfc='none', mec='#333333', mew=1, label='Unloaded Rotational'),
      Line2D([], [], ls='none', marker='D', ms=8, mfc='none', mec='#333333', mew=1,
             label='Maximally Loaded Linear')]
legE = axE.legend(handles=hE, title='Measured E$_{\\mathrm{cyc}}$', loc='upper left', bbox_to_anchor=(0.378, 0.968),
                  fontsize=10.5, title_fontsize=10.5, fancybox=False, framealpha=1, edgecolor='#888888',
                  handletextpad=0.8, handlelength=1.6, labelspacing=0.2, borderpad=0.4, borderaxespad=0.2)
legE.get_frame().set_linewidth(0.8)
legE._legend_box.align = 'left'

secE = axE.secondary_xaxis('top', functions=(lambda f: f * MM_S_PER_HZ, lambda v: v / MM_S_PER_HZ))
secE.set_xticks([0.48, 4.8, 48.0, 480.0])
secE.set_xticklabels(['0.480', '4.80', '48.0', '480'])
secE.xaxis.set_minor_locator(NullLocator())
secE.tick_params(direction='out', length=6, labelsize=13)
ftext(1290, 732, 'Actuating Velocity (mm/s)', ha='center', va='center', fontsize=12.5)

fig.savefig('out.png', dpi=100, facecolor='white')
